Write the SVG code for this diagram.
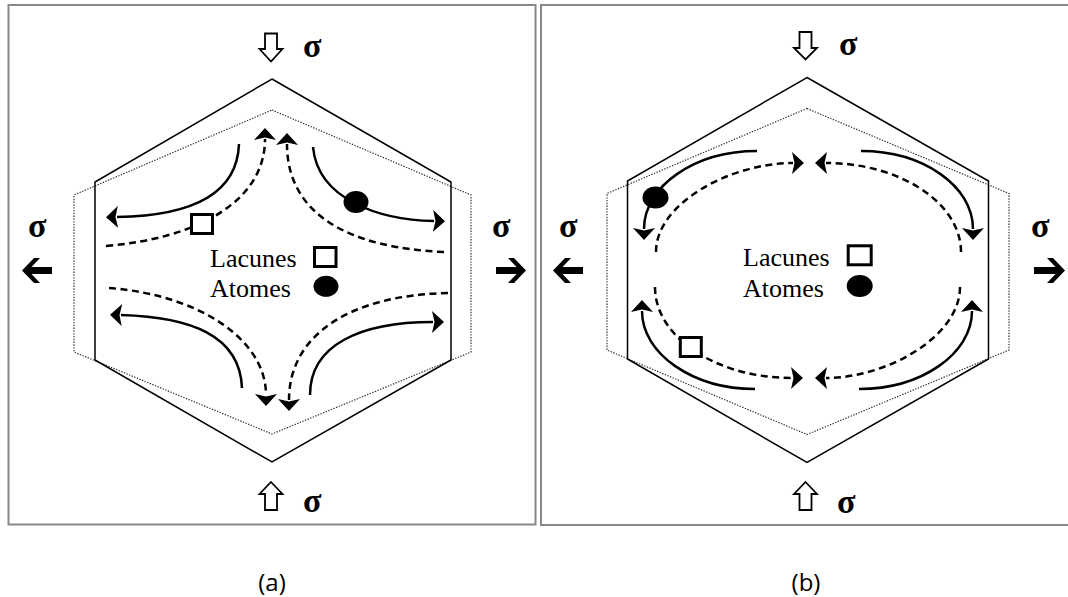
<svg xmlns="http://www.w3.org/2000/svg" width="1068" height="597" viewBox="0 0 1068 597">
  <defs>
    <marker id="ah" viewBox="0 0 12 22" refX="1" refY="11" markerWidth="12" markerHeight="22" markerUnits="userSpaceOnUse" orient="auto">
      <path d="M0,0 L12,11 L0,22 L2.5,11 z" fill="#000"/>
    </marker>
  </defs>
  <style>
    .frame { fill: #fff; stroke: #888; stroke-width: 2; }
    .hex { fill: none; stroke: #000; stroke-width: 1.5; stroke-linejoin: miter; }
    .dot { fill: none; stroke: #333; stroke-width: 1.2; stroke-dasharray: 1.4 1.4; }
    .solid { fill: none; stroke: #000; stroke-width: 2.5; marker-end: url(#ah); }
    .dash { fill: none; stroke: #000; stroke-width: 2.5; stroke-dasharray: 7 4.5; marker-end: url(#ah); }
    .hollow { fill: #fff; stroke: #000; stroke-width: 1.8; stroke-linejoin: miter; }
    .bold { fill: #000; stroke: none; }
    .sig { font-family: "Liberation Serif", "DejaVu Serif", serif; font-weight: bold; font-size: 34px; fill: #000; }
    .leg { font-family: "Liberation Serif", "DejaVu Serif", serif; font-size: 26px; fill: #000; }
    .vac { fill: #fff; stroke: #000; stroke-width: 3; }
    .atom { fill: #000; }
    .cap { font-family: "Open Sans", "Liberation Sans", sans-serif; font-size: 24px; fill: #000; text-anchor: middle; }
  </style>
  <rect width="1068" height="597" fill="#fff"/>

  <!-- Panel (a) -->
  <g id="panel-a">
    <rect class="frame" x="8.5" y="5" width="527" height="519.5"/>
    <g id="grain-a">
      <polygon class="dot" points="272,110 471,195 471,352 272,434 74,352 74,195"/>
      <polygon class="hex" points="272,79 451,182 451,360 272,462 95,360 95,182"/>
    </g>
    <g id="stress-a">
      <polygon class="hollow" points="265,33.5 277,33.5 277,49 282.5,49 271,61.5 259.5,49 265,49"/>
      <polygon class="hollow" points="271,482 282.5,494 277,494 277,510 265,510 265,494 259.5,494"/>
      <polygon class="bold" points="22,270.5 34,258 40,258 31.5,267 52,267 52,274 31.5,274 40,283 34,283"/>
      <polygon class="bold" points="526,270.5 514,258 508,258 516.5,267 496,267 496,274 516.5,274 508,283 514,283"/>
      <text class="sig" x="303" y="57">σ</text>
      <text class="sig" x="303" y="512">σ</text>
      <text class="sig" x="28" y="237">σ</text>
      <text class="sig" x="492" y="237">σ</text>
    </g>
    <g id="legend-a">
      <text class="leg" x="210" y="267">Lacunes</text>
      <text class="leg" x="210" y="297">Atomes</text>
      <rect class="vac" x="314.5" y="247.5" width="21.5" height="19"/>
      <ellipse class="atom" cx="326" cy="286.3" rx="12.5" ry="10.5"/>
    </g>
  </g>

  <!-- Panel (b) -->
  <g id="panel-b">
    <rect class="frame" x="541" y="5" width="540" height="520"/>
    <g id="grain-b">
      <polygon class="dot" points="807,108.5 1009,193.5 1009,350 807,434.5 607,350 607,193.5"/>
      <polygon class="hex" points="807,77.5 988.5,181 988.5,359 807,462.5 627.5,359 627.5,181"/>
    </g>
    <g id="stress-b">
      <polygon class="hollow" points="799.5,32 811.5,32 811.5,48 817,48 805.5,59.5 794,48 799.5,48"/>
      <polygon class="hollow" points="805.5,482 817,494 811.5,494 811.5,510 799.5,510 799.5,494 794,494"/>
      <polygon class="bold" points="553,270.5 565,258 571,258 562.5,267 583,267 583,274 562.5,274 571,283 565,283"/>
      <polygon class="bold" points="1065,270.5 1053,258 1047,258 1055.5,267 1034,267 1034,274 1055.5,274 1047,283 1053,283"/>
      <text class="sig" x="839" y="55">σ</text>
      <text class="sig" x="837" y="513">σ</text>
      <text class="sig" x="559" y="237">σ</text>
      <text class="sig" x="1031" y="237">σ</text>
    </g>
    <g id="legend-b">
      <text class="leg" x="743" y="265.5">Lacunes</text>
      <text class="leg" x="743" y="296.7">Atomes</text>
      <rect class="vac" x="848.2" y="245.8" width="23" height="19"/>
      <ellipse class="atom" cx="859.7" cy="286" rx="13" ry="11"/>
    </g>
  </g>

  <!-- Connectors: diffusion flows -->
  <g id="connectors">
    <!-- (a) -->
    <path class="solid" d="M239,144 C237,200 180,216 117,217"/>
    <path class="dash" d="M106,246 C200,238 265,200 265,139"/>
    <path class="dash" d="M444,252 C350,248 287,215 287,144"/>
    <path class="solid" d="M313,147 C318,200 380,220 434,221"/>
    <path class="dash" d="M109,288 C200,295 266,340 266,395"/>
    <path class="solid" d="M242,388 C240,335 190,317 121,315"/>
    <path class="dash" d="M448,293 C350,295 289,335 289,400"/>
    <path class="solid" d="M310,395 C310,345 360,322 433,322"/>
    <!-- (b) -->
    <path class="solid" d="M757,151 C695,151 644,186 644,229"/>
    <path class="solid" d="M861,151 C923,151 973,186 973,229"/>
    <path class="dash" d="M656,252 C656,203 731,163 793,163"/>
    <path class="dash" d="M961,252 C961,203 900,163 826,163"/>
    <path class="solid" d="M755,389 C693,389 642,354 642,311"/>
    <path class="dash" d="M655,287 C655,337 716,378 792,378"/>
    <path class="dash" d="M960,287 C960,337 886,378 826,378"/>
    <path class="solid" d="M859,389 C921,389 972,354 972,311"/>
  </g>

  <!-- Particles on flows -->
  <g id="particles">
    <rect class="vac" x="191.5" y="214.5" width="21" height="19"/>
    <ellipse class="atom" cx="356" cy="202" rx="12.5" ry="11"/>
    <ellipse class="atom" cx="655.5" cy="197.5" rx="13" ry="11"/>
    <rect class="vac" x="680.3" y="337.5" width="21" height="19"/>
  </g>

  <!-- Captions -->
  <g id="captions">
    <text class="cap" x="272" y="591">(a)</text>
    <text class="cap" x="806" y="591">(b)</text>
  </g>
</svg>
